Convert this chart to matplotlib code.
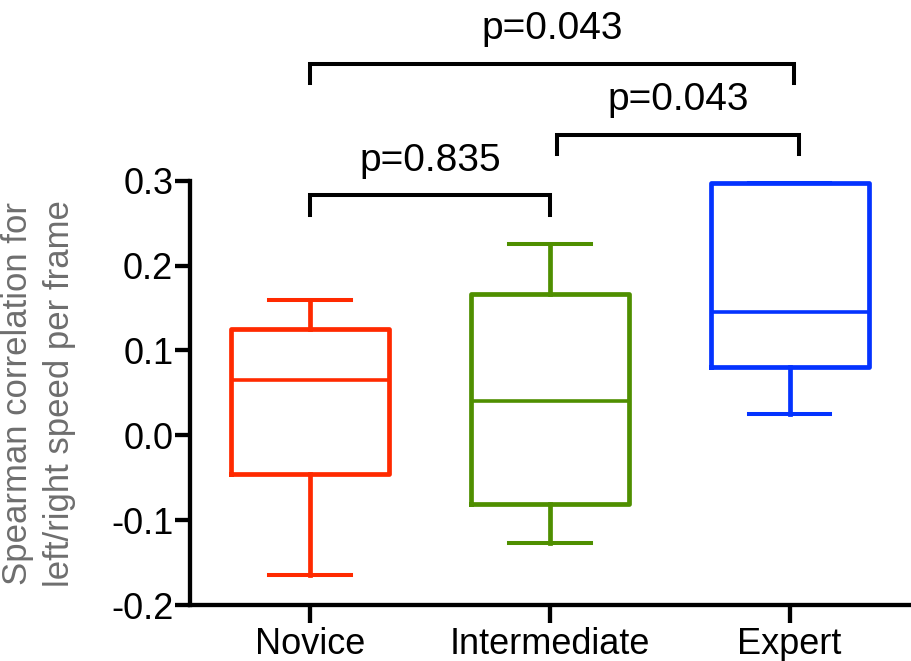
import matplotlib
matplotlib.use("Agg")
import matplotlib.pyplot as plt

plt.rcParams['font.family'] = ['Liberation Sans', 'DejaVu Sans']

# box statistics
groups = ['Novice', 'Intermediate', 'Expert']
whisker_low = [-0.165, -0.127, 0.025]
q1 = [-0.046, -0.081, 0.080]
median = [0.065, 0.040, 0.145]
q3 = [0.125, 0.166, 0.297]
whisker_high = [0.160, 0.226, 0.297]
colors = ['#ff2a00', '#4f8f00', '#0433ff']

# significance brackets: (left group, right group, label, height)
brackets = [
    (0, 1, 'p=0.835', 0.283),
    (1, 2, 'p=0.043', 0.354),
    (0, 2, 'p=0.043', 0.438),
]

fig = plt.figure(figsize=(9.12, 6.61), dpi=100)
ax = fig.add_axes([0.2083, 0.0847, 0.7917, 0.9153])

stats = []
for i, g in enumerate(groups):
    stats.append(dict(label=g, whislo=whisker_low[i], q1=q1[i], med=median[i],
                      q3=q3[i], whishi=whisker_high[i], fliers=[]))

for i, s in enumerate(stats):
    c = colors[i]
    ax.bxp([s], positions=[i], widths=0.66, capwidths=0.34, showfliers=False,
           boxprops=dict(color=c, linewidth=3.4),
           whiskerprops=dict(color=c, linewidth=3.4),
           capprops=dict(color=c, linewidth=2.9),
           medianprops=dict(color=c, linewidth=2.6),
           manage_ticks=False)

leg = 0.023
for a, b, label, y in brackets:
    xa, xb = a, b
    if a == 1:
        xa = a + 0.03
    if b == 2:
        xb = b + 0.04 if a == 1 else b + 0.02
    ax.plot([xa, xa, xb, xb], [y - leg, y, y, y - leg], color='black',
            linewidth=2.9, solid_joinstyle='miter', clip_on=False)
    ax.text((xa + xb) / 2, y + 0.029, label, ha='center', va='baseline',
            fontsize=28, color='black')

ax.set_xlim(-0.5, 2.51)
ax.set_ylim(-0.2, 0.513)
ax.set_xticks(range(len(groups)))
ax.set_xticklabels(groups)
ax.set_yticks([-0.2, -0.1, 0.0, 0.1, 0.2, 0.3])
ax.set_yticklabels(['-0.2', '-0.1', '0.0', '0.1', '0.2', '0.3'])

for side in ['top', 'right']:
    ax.spines[side].set_visible(False)
ax.spines['left'].set_bounds(-0.2, 0.3)
ax.spines['left'].set_linewidth(3.1)
ax.spines['bottom'].set_linewidth(3.1)
ax.tick_params(axis='y', length=11, width=3.1, pad=1, labelsize=26)
ax.tick_params(axis='x', length=13, width=3.1, pad=3, labelsize=26)

fig.text(0.042, 0.405, 'Spearman correlation for\nleft/right speed per frame',
         rotation=90, ha='center', va='center', multialignment='center',
         fontsize=25, color='#6e6e6e', linespacing=1.35)

fig.savefig('out.png', dpi=100)
